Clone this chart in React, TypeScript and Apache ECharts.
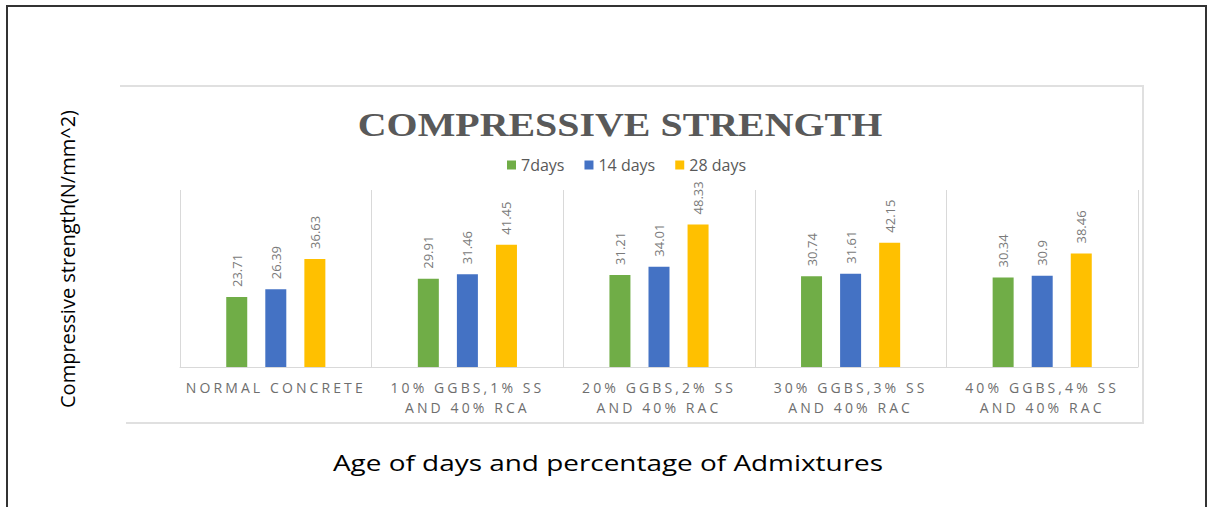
import React, { useEffect, useRef } from 'react';
import * as echarts from 'echarts';

const categories = [
  'NORMAL CONCRETE',
  '10% GGBS,1% SS\nAND 40% RCA',
  '20% GGBS,2% SS\nAND 40% RAC',
  '30% GGBS,3% SS\nAND 40% RAC',
  '40% GGBS,4% SS\nAND 40% RAC',
];
const seriesNames = ['7days', '14 days', '28 days'];
const days7 = [23.71, 29.91, 31.21, 30.74, 30.34];
const days14 = [26.39, 31.46, 34.01, 31.61, 30.9];
const days28 = [36.63, 41.45, 48.33, 42.15, 38.46];
const colors = ['#70AD47', '#4472C4', '#FFC000'];

const TITLE = 'COMPRESSIVE STRENGTH';
const Y_TITLE = 'Compressive strength(N/mm^2)';
const X_TITLE = 'Age of days and percentage of Admixtures';

export default function App() {
  const ref = useRef<HTMLDivElement>(null);
  useEffect(() => {
    const el = ref.current!;
    const chart = echarts.init(el, null, { renderer: 'svg' });
    const valueLabel = {
      show: true,
      position: 'top',
      rotate: 90,
      align: 'left',
      verticalAlign: 'middle',
      distance: 10,
      color: '#7a7a7a',
      fontSize: 13,
      fontFamily: 'Open Sans',
    };
    const allSeries = [days7, days14, days28].map((d, i) => ({
      name: seriesNames[i],
      type: 'bar',
      data: d,
      barWidth: 21,
      barGap: '86%',
      itemStyle: { color: colors[i] },
      label: valueLabel,
    }));
    const option: any = {
      animation: false,
      backgroundColor: '#ffffff',
      grid: { left: 180, right: 70, top: 190, bottom: 140 },
      legend: {
        data: seriesNames,
        left: 507,
        top: 157,
        padding: 0,
        itemWidth: 9,
        itemHeight: 9,
        itemGap: 20,
        icon: 'rect',
        textStyle: { color: '#595959', fontSize: 16, fontFamily: 'Open Sans' },
      },
      xAxis: {
        type: 'category',
        data: categories,
        axisLine: { show: true, lineStyle: { color: '#d9d9d9', width: 1 } },
        axisTick: { show: false },
        splitLine: { show: true, interval: 0, lineStyle: { color: '#d9d9d9', width: 1 } },
        axisLabel: {
          interval: 0,
          margin: 10,
          color: '#6e6e6e',
          fontSize: 14,
          lineHeight: 20,
          fontFamily: 'Open Sans',
        },
      },
      yAxis: {
        type: 'value',
        min: 0,
        max: 60,
        show: false,
        splitLine: { show: false },
      },
      series: allSeries,
      graphic: [
        {
          type: 'polyline',
          silent: true,
          shape: { points: [[7, 520], [7, 6], [1206, 6], [1206, 520]] },
          style: { stroke: '#333333', lineWidth: 2, fill: null },
        },
        {
          type: 'polyline',
          silent: true,
          shape: { points: [[120, 86], [1143, 86], [1143, 423], [126, 423]] },
          style: { stroke: '#e0e0e0', lineWidth: 2, fill: null },
        },
        {
          type: 'text',
          x: 620,
          y: 125,
          scaleX: 1.21,
          style: {
            text: TITLE,
            fill: '#595959',
            font: 'bold 33px "Liberation Serif"',
            align: 'center',
            verticalAlign: 'middle',
            textAlign: 'center',
            textVerticalAlign: 'middle',
          },
        },
        {
          type: 'text',
          x: 67,
          y: 259,
          rotation: Math.PI / 2,
          style: {
            text: Y_TITLE,
            fill: '#000000',
            font: '20px "Open Sans"',
            align: 'center',
            verticalAlign: 'middle',
            textAlign: 'center',
            textVerticalAlign: 'middle',
          },
        },
        {
          type: 'text',
          x: 608,
          y: 463,
          scaleX: 1.33,
          style: {
            text: X_TITLE,
            fill: '#000000',
            font: '21px "Open Sans"',
            align: 'center',
            verticalAlign: 'middle',
            textAlign: 'center',
            textVerticalAlign: 'middle',
          },
        },
      ],
    };
    chart.setOption(option);
    const lines = new Set(categories.flatMap((c) => c.split('\n')));
    const spacing = () => {
      el.querySelectorAll('text').forEach((t) => {
        if (lines.has((t.textContent || '').trim())) t.setAttribute('letter-spacing', '3.1');
      });
    };
    spacing();
    chart.on('finished', spacing);
    return () => chart.dispose();
  }, []);
  return (
    <div
      ref={ref}
      style={{ position: 'absolute', left: 0, top: 0, width: 1208, height: 507, background: '#fff' }}
    />
  );
}
